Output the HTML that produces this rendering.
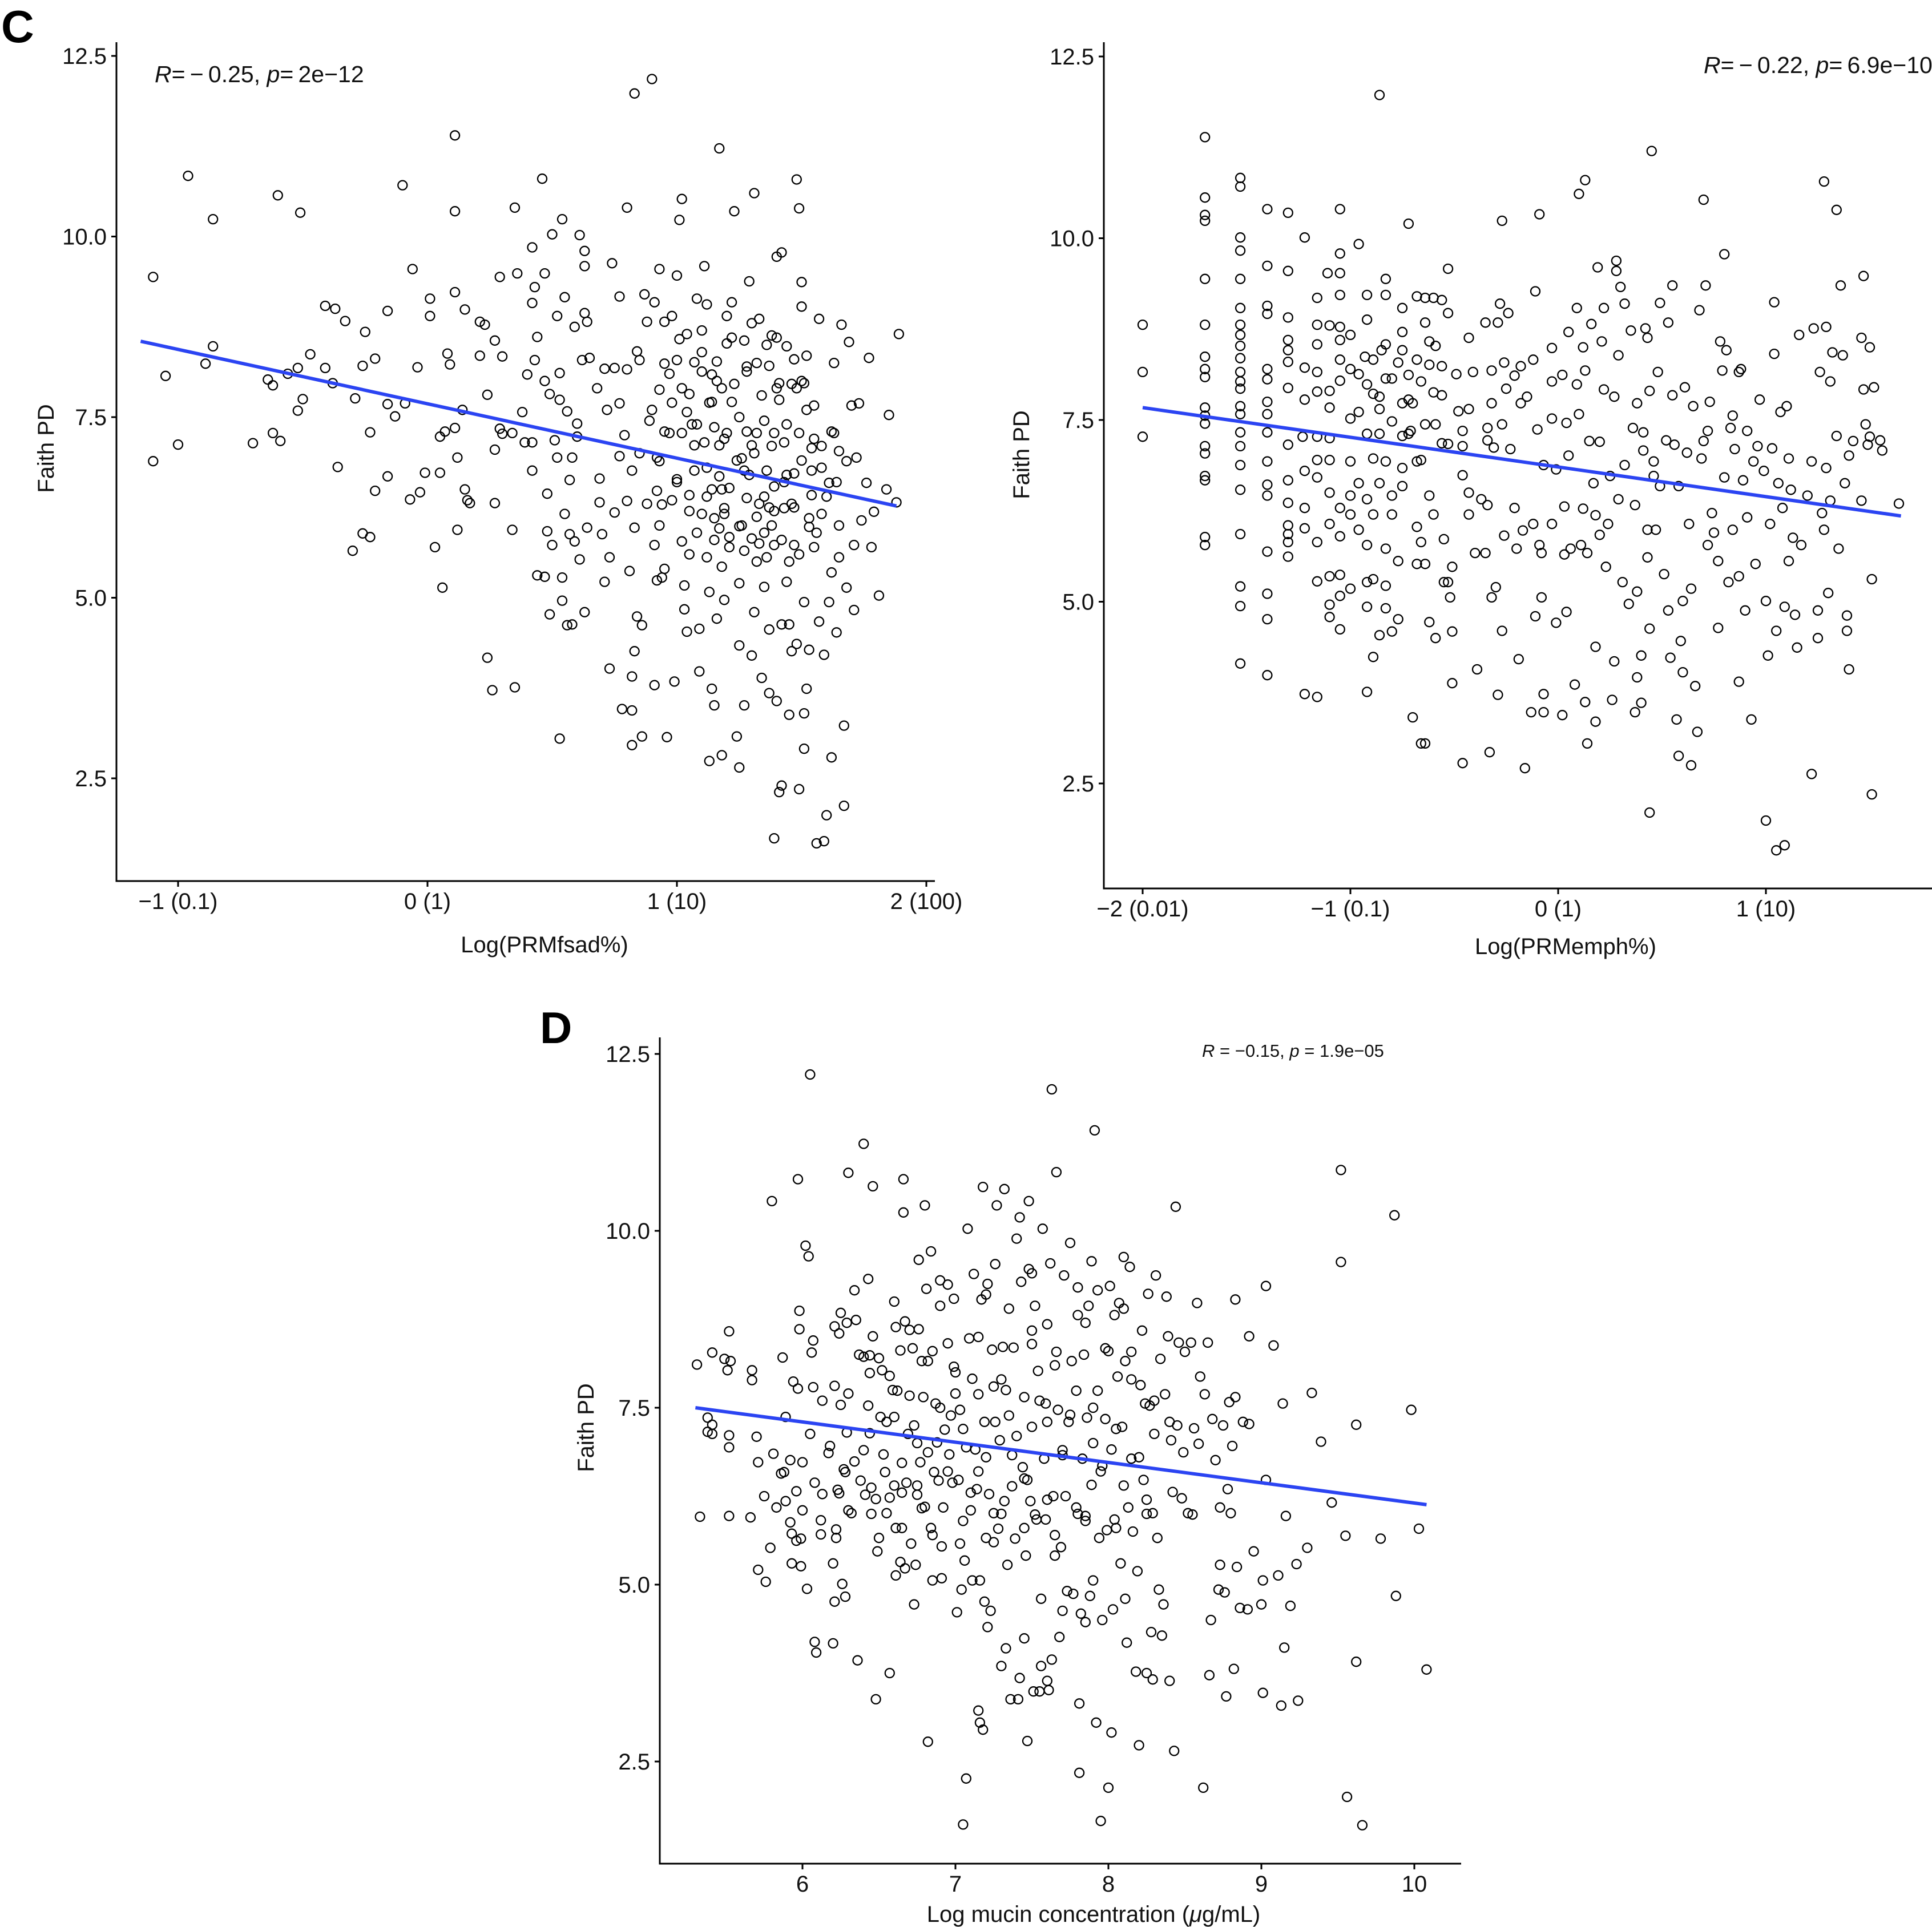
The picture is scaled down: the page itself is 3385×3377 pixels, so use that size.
<!DOCTYPE html>
<html><head><meta charset="utf-8"><style>
html,body{margin:0;padding:0;background:#fff;}
svg{display:block;font-family:"Liberation Sans",Arial,sans-serif;}
</style></head><body>
<svg id="fig" width="3385" height="3377" viewBox="0 0 3385 3377" xmlns="http://www.w3.org/2000/svg">
<rect width="3385" height="3377" fill="#fff"/>
<text x="2" y="74" font-size="80" font-weight="bold">C</text>
<text x="946" y="1828" font-size="78" font-weight="bold">D</text>
</svg>
<script>
// ---- Panel C1: PRMfsad ----
const fsadX = [-1.10,-1.10,-1.05,-1.0,-0.96,-0.89,-0.86,-0.86,-0.70,-0.64,-0.62,-0.62,-0.60,-0.59,-0.56,-0.52,-0.52,-0.51,-0.50,-0.47,-0.41,-0.41,-0.38,-0.37,-0.36,-0.33,-0.30,-0.29,-0.26,-0.25,-0.26,-0.23,-0.23,-0.21,-0.21,-0.16,-0.16,-0.16,-0.13,-0.10,-0.09,-0.07,-0.06,-0.04,-0.03,-0.01,0.01,0.01,0.03,0.05,0.05,0.06,0.07,0.08,0.09,0.11,0.11,0.11,0.11,0.12,0.12,0.14,0.15,0.15,0.16,0.17,0.21,0.23,0.21,0.24,0.24,0.26,0.27,0.27,0.27,0.29,0.29,0.30,0.30,0.34,0.35,0.35,0.34,0.36,0.38,0.40,0.39,0.42,0.42,0.42,0.42,0.43,0.43,0.44,0.44,0.46,0.47,0.47,0.47,0.48,0.48,0.49,0.49,0.50,0.50,0.51,0.52,0.52,0.53,0.53,0.53,0.54,0.54,0.54,0.55,0.55,0.56,0.56,0.57,0.57,0.58,0.58,0.59,0.59,0.60,0.60,0.61,0.61,0.62,0.63,0.63,0.63,0.63,0.64,0.64,0.65,0.68,0.69,0.69,0.70,0.71,0.71,0.72,0.73,0.73,0.74,0.75,0.75,0.77,0.77,0.77,0.78,0.79,0.80,0.80,0.80,0.81,0.82,0.82,0.82,0.82,0.83,0.83,0.83,0.84,0.84,0.85,0.86,0.86,0.87,0.88,0.90,0.91,0.91,0.91,0.92,0.92,0.93,0.93,0.93,0.94,0.94,0.95,0.95,0.96,0.97,0.98,0.98,0.99,1.0,1.0,1.0,1.01,1.01,1.02,1.02,1.02,1.03,1.03,1.04,1.04,1.04,1.05,1.05,1.07,1.07,1.08,1.09,1.09,1.10,1.11,1.11,1.12,1.12,1.13,1.13,1.14,1.14,1.15,1.15,1.16,1.16,1.17,1.17,1.17,1.18,1.18,1.19,1.19,1.20,1.20,1.21,1.21,1.22,1.23,1.23,1.24,1.25,1.25,1.25,1.26,1.27,1.27,1.28,1.28,1.29,1.30,1.30,1.31,1.31,1.32,1.32,1.33,1.33,1.34,1.35,1.35,1.36,1.36,1.37,1.37,1.38,1.39,1.39,1.39,1.40,1.40,1.41,1.41,1.42,1.42,1.42,1.43,1.43,1.44,1.44,1.45,1.45,1.46,1.46,1.47,1.47,1.48,1.48,1.49,1.49,1.49,1.50,1.50,1.51,1.51,1.51,1.52,1.52,1.53,1.53,1.54,1.54,1.55,1.56,1.57,1.57,1.58,1.59,1.59,1.60,1.61,1.61,1.62,1.62,1.63,1.63,1.64,1.65,1.65,1.65,1.66,1.67,1.67,1.68,1.68,1.69,1.70,1.71,1.71,1.72,1.73,1.74,1.76,1.77,1.78,1.79,1.81,1.84,1.85,1.88,1.89,1.14,1.22,1.32,1.39,1.17,1.27,1.37,1.19,1.41,1.51,1.07,0.92,0.89,1.10,1.27,1.37,1.54,1.47,1.30,1.14];
const fsadY = [9.44,6.89,8.07,7.12,10.84,8.24,10.24,8.48,7.14,8.02,7.94,7.28,10.57,7.17,8.1,8.18,7.59,10.33,7.75,8.37,9.04,8.18,7.97,9.0,6.81,8.83,5.65,7.76,5.89,8.68,8.21,7.29,5.84,6.48,8.31,8.97,7.68,6.68,7.51,10.71,7.69,6.36,9.55,8.19,6.46,6.73,8.90,9.14,5.70,6.73,7.23,5.14,7.30,8.38,8.23,7.35,11.40,10.35,9.23,6.94,5.94,7.60,8.99,6.50,6.35,6.31,8.82,8.78,8.35,7.81,4.17,3.72,8.56,7.05,6.31,9.44,7.34,7.27,8.34,5.94,3.76,10.40,7.28,9.49,7.57,8.09,7.15,9.85,9.08,7.15,6.76,9.30,8.29,5.31,8.61,10.80,9.49,8.0,5.29,6.44,5.92,7.82,4.77,10.03,5.73,7.18,6.94,8.90,3.05,8.11,7.74,10.24,5.28,4.96,6.16,9.16,7.58,4.62,5.88,6.63,4.63,6.94,8.75,5.78,7.23,7.41,5.53,10.02,8.29,9.59,9.8,8.94,4.80,5.97,8.82,8.32,7.90,6.32,6.65,5.88,5.22,8.17,7.60,5.56,4.02,9.63,8.18,6.18,9.17,6.96,7.69,3.46,7.25,10.40,8.16,6.34,5.37,3.44,3.91,2.96,6.76,11.98,5.97,4.26,8.41,4.74,8.29,4.62,3.08,9.20,8.82,12.18,3.79,9.09,5.73,5.24,6.48,7.88,9.55,6.89,5.28,6.29,8.82,8.24,3.07,7.28,8.90,6.35,3.84,6.64,9.46,8.29,8.58,10.23,10.52,5.78,7.28,4.84,5.17,7.57,8.65,4.53,6.42,7.82,8.26,6.76,9.14,3.98,4.57,6.16,9.59,7.15,9.06,5.56,2.74,5.08,8.09,3.74,7.36,3.51,8.27,4.71,5.96,11.22,6.68,2.82,5.43,6.24,4.97,7.28,8.52,5.84,6.52,9.09,7.96,10.35,3.08,5.99,2.65,4.34,6.93,3.51,5.65,6.38,8.13,9.38,4.20,7.11,4.80,10.60,6.12,8.25,5.75,8.86,3.89,5.15,7.45,6.76,5.56,3.68,4.56,8.63,6.54,1.67,5.73,3.57,9.72,2.31,7.74,4.63,2.40,9.78,6.24,7.15,8.48,5.22,3.38,4.63,7.96,4.26,5.73,6.72,10.79,4.36,10.39,2.35,7.28,9.03,9.37,3.40,2.91,4.94,3.74,8.35,5.98,4.28,7.07,6.42,7.66,1.60,8.86,4.67,6.16,4.21,1.63,1.99,4.94,6.59,5.35,2.79,7.28,8.25,4.52,5.56,7.03,6.00,8.78,2.12,3.23,5.14,6.89,8.54,7.66,5.73,4.83,6.94,7.69,6.07,6.59,8.32,5.70,6.19,5.03,6.50,7.53,6.32,8.65,7.71,7.71,7.28,7.28,7.11,6.76,6.25,6.16,7.97,7.97,7.11,6.94,7.45,8.13,8.56,8.21,6.76,6.25,5.82,6.50];
const fsadX2 = [0.85,0.88,0.90,0.93,0.95,0.97,1.00,1.02,1.05,1.06,1.08,1.10,1.12,1.13,1.15,1.16,1.18,1.19,1.21,1.22,1.24,1.25,1.26,1.28,1.29,1.31,1.32,1.34,1.35,1.36,1.38,1.39,1.40,1.42,1.43,1.44,1.46,1.47,1.49,1.50,1.52,1.53,1.55,1.56,1.58,1.60,1.62,1.64,0.95,1.05,1.15,1.25,1.35,1.45,1.55,1.10,1.20,1.30,1.40,1.50,0.98,1.08,1.18,1.28,1.38,1.48,1.58,1.12,1.33,1.44];
const fsadY2 = [7.0,6.3,7.6,6.0,7.3,8.1,6.6,7.9,6.2,7.4,5.9,8.4,6.8,7.7,6.1,8.0,6.5,7.2,5.7,8.6,6.9,7.5,6.0,8.2,6.7,7.0,5.5,7.8,6.4,8.5,7.1,6.2,7.9,5.8,6.6,7.4,6.3,8.3,5.6,6.9,7.6,6.1,7.2,5.9,6.8,6.4,7.3,6.6,5.4,5.6,5.8,5.2,5.9,5.5,5.7,8.7,8.9,8.8,8.6,8.0,7.7,7.4,7.9,7.3,6.0,7.9,7.1,6.4,6.3,6.7];
const fsadFitX = [-1.15, 1.88];
const fsadFitY = [8.55, 6.27];
const fsadXTicks = [-1, 0, 1, 2];
const fsadXTickLabels = ["\u22121 (0.1)", "0 (1)", "1 (10)", "2 (100)"];

// ---- Panel C2: PRMemph ----
const emphX = [-2.00,-2.00,-2.00,-1.70,-1.70,-1.70,-1.70,-1.70,-1.70,-1.70,-1.70,-1.70,-1.70,-1.70,-1.70,-1.70,-1.70,-1.70,-1.70,-1.70,-1.70,-1.53,-1.53,-1.53,-1.53,-1.53,-1.53,-1.53,-1.53,-1.53,-1.53,-1.53,-1.53,-1.53,-1.53,-1.53,-1.53,-1.53,-1.53,-1.53,-1.53,-1.53,-1.53,-1.53,-1.40,-1.40,-1.40,-1.40,-1.40,-1.40,-1.40,-1.40,-1.40,-1.40,-1.40,-1.40,-1.40,-1.40,-1.40,-1.40,-1.30,-1.30,-1.30,-1.30,-1.30,-1.30,-1.30,-1.30,-1.30,-1.30,-1.30,-1.30,-1.30,-1.30,-1.22,-1.23,-1.22,-1.22,-1.22,-1.22,-1.22,-1.22,-1.16,-1.16,-1.16,-1.16,-1.16,-1.16,-1.16,-1.16,-1.16,-1.16,-1.16,-1.11,-1.10,-1.10,-1.10,-1.10,-1.10,-1.10,-1.10,-1.10,-1.10,-1.10,-1.05,-1.05,-1.05,-1.05,-1.05,-1.05,-1.05,-1.05,-1.05,-1.05,-1.05,-1.05,-1.05,-1.00,-1.00,-1.00,-1.00,-1.00,-1.00,-1.00,-0.96,-0.96,-0.96,-0.96,-0.96,-0.92,-0.92,-0.93,-0.92,-0.92,-0.92,-0.92,-0.92,-0.92,-0.92,-0.89,-0.89,-0.89,-0.89,-0.89,-0.89,-0.86,-0.86,-0.86,-0.86,-0.86,-0.86,-0.85,-0.83,-0.83,-0.83,-0.83,-0.83,-0.83,-0.83,-0.83,-0.80,-0.80,-0.80,-0.80,-0.80,-0.77,-0.77,-0.77,-0.75,-0.75,-0.75,-0.75,-0.75,-0.75,-0.75,-0.72,-0.72,-0.72,-0.72,-0.70,-0.70,-0.71,-0.68,-0.68,-0.68,-0.68,-0.68,-0.66,-0.66,-0.66,-0.66,-0.64,-0.64,-0.64,-0.64,-0.64,-0.62,-0.62,-0.62,-0.62,-0.60,-0.60,-0.60,-0.59,-0.59,-0.59,-0.56,-0.56,-0.56,-0.56,-0.55,-0.55,-0.53,-0.53,-0.53,-0.53,-0.52,-0.51,-0.51,-0.51,-0.49,-0.48,-0.46,-0.46,-0.46,-0.46,-0.43,-0.43,-0.43,-0.43,-0.41,-0.40,-0.39,-0.37,-0.35,-0.35,-0.34,-0.34,-0.34,-0.33,-0.32,-0.32,-0.32,-0.31,-0.30,-0.29,-0.29,-0.28,-0.27,-0.27,-0.27,-0.26,-0.26,-0.25,-0.24,-0.23,-0.21,-0.21,-0.20,-0.19,-0.18,-0.18,-0.17,-0.16,-0.15,-0.13,-0.12,-0.12,-0.11,-0.11,-0.10,-0.09,-0.09,-0.08,-0.08,-0.07,-0.07,-0.07,-0.03,-0.03,-0.03,-0.01,-0.01,-0.03,0.02,0.02,0.03,0.03,0.04,0.04,0.05,0.05,0.06,0.08,0.09,0.09,0.10,0.10,0.11,0.12,0.12,0.13,0.13,0.13,0.14,0.14,0.15,0.16,0.17,0.18,0.18,0.18,0.19,0.20,0.20,0.21,0.22,0.22,0.23,0.24,0.25,0.26,0.27,0.27,0.28,0.28,0.29,0.29,0.30,0.31,0.32,0.32,0.34,0.35,0.36,0.37,0.37,0.38,0.38,0.38,0.40,0.40,0.41,0.41,0.42,0.43,0.43,0.43,0.44,0.44,0.44,0.45,0.46,0.46,0.47,0.48,0.49,0.49,0.51,0.52,0.53,0.53,0.54,0.55,0.55,0.56,0.57,0.58,0.58,0.59,0.60,0.60,0.61,0.62,0.63,0.64,0.64,0.65,0.66,0.67,0.68,0.69,0.70,0.70,0.71,0.72,0.72,0.73,0.74,0.75,0.77,0.77,0.78,0.79,0.80,0.80,0.81,0.82,0.83,0.84,0.84,0.85,0.87,0.87,0.87,0.88,0.89,0.90,0.91,0.91,0.93,0.94,0.95,0.96,0.97,0.99,1.00,1.00,1.01,1.02,1.03,1.04,1.04,1.05,1.05,1.06,1.07,1.08,1.09,1.09,1.10,1.11,1.11,1.12,1.13,1.14,1.15,1.16,1.17,1.20,1.22,1.22,1.23,1.25,1.25,1.26,1.27,1.28,1.28,1.29,1.29,1.30,1.31,1.31,1.32,1.34,1.34,1.35,1.36,1.37,1.38,1.39,1.39,1.40,1.40,1.42,1.46,1.46,1.47,1.47,1.48,1.49,1.50,1.50,1.51,1.51,1.52,1.55,1.56,1.64];
const emphY = [8.81,8.16,7.27,11.39,10.56,10.32,10.24,9.44,8.81,8.37,8.20,8.09,7.67,7.56,7.45,7.14,7.04,6.73,6.67,5.89,5.78,10.83,10.71,10.01,9.83,9.44,9.04,8.81,8.67,8.52,8.35,8.16,8.03,7.93,7.69,7.58,7.33,7.14,6.88,6.54,5.93,5.21,4.94,4.15,10.40,9.62,9.07,8.96,8.20,8.06,7.75,7.58,7.33,6.93,6.61,6.46,5.69,5.11,4.76,3.99,10.35,9.55,8.91,8.60,8.46,8.30,7.94,7.16,6.67,6.36,6.05,5.93,5.82,5.62,10.01,7.27,8.22,7.78,6.80,6.29,6.01,3.73,9.18,8.81,8.54,8.16,7.89,7.27,6.95,6.71,5.82,5.28,3.69,9.52,8.80,7.90,7.67,7.25,6.50,6.07,5.35,4.96,4.79,6.95,10.40,9.79,9.52,9.22,8.78,8.60,8.33,8.04,6.29,5.90,5.37,5.08,4.62,8.67,8.20,7.52,6.93,6.46,6.20,5.18,9.92,8.13,7.61,6.63,5.99,9.22,8.88,8.37,7.99,7.31,6.41,5.78,5.27,4.93,3.76,8.33,7.86,6.97,6.20,5.31,4.24,11.97,7.82,7.65,7.31,6.63,4.54,8.46,9.44,9.22,8.54,8.07,6.93,5.73,5.22,4.91,8.07,7.48,6.46,6.20,4.59,8.29,5.56,4.76,9.04,8.71,8.46,7.28,6.84,6.59,7.73,10.20,8.12,7.78,7.31,3.41,7.73,7.35,9.20,8.33,6.93,6.03,5.52,8.03,5.82,3.05,6.95,9.18,8.84,7.44,5.52,3.05,8.58,8.26,6.46,4.72,9.18,7.88,6.20,8.52,7.44,4.50,9.15,8.24,7.84,7.18,5.86,5.27,8.97,9.58,7.17,5.27,5.06,5.48,4.59,3.88,8.13,7.62,7.35,7.14,6.74,2.78,8.63,7.65,6.50,6.20,8.16,5.67,4.07,6.41,8.84,5.67,7.39,7.22,6.33,2.93,8.18,7.73,5.06,7.12,5.20,3.72,8.84,9.10,7.44,10.24,4.60,5.91,8.29,7.93,8.97,7.10,8.11,6.29,5.73,4.21,8.24,7.73,5.98,2.71,7.82,3.48,8.33,6.07,9.27,4.80,7.37,10.33,5.78,5.67,5.06,3.48,3.73,6.88,8.49,7.52,6.07,6.82,4.71,8.03,3.44,8.12,5.65,6.31,7.46,4.86,8.71,7.01,5.73,3.86,9.04,7.99,10.61,7.58,5.78,6.28,8.50,3.62,10.80,8.18,3.05,5.67,7.21,8.82,6.63,4.38,3.35,6.19,9.60,5.92,7.20,8.58,9.04,7.92,5.48,6.07,6.73,3.65,4.18,7.82,9.69,9.55,6.41,8.39,9.33,5.27,6.88,9.10,4.97,8.73,7.39,6.33,3.48,5.14,7.73,3.96,4.26,3.61,7.08,7.33,8.76,5.61,5.99,8.63,7.90,4.63,2.10,11.20,6.93,6.73,5.99,8.16,6.59,9.11,5.38,7.22,4.88,8.84,4.23,7.84,9.35,7.16,3.38,2.88,6.59,4.46,4.03,5.01,7.95,7.05,6.07,2.75,5.18,7.69,3.84,3.21,9.01,6.97,10.53,7.21,9.35,5.78,7.35,7.75,6.22,5.95,5.56,4.64,8.58,8.18,9.78,6.71,8.46,5.27,7.39,5.99,7.56,7.10,8.16,5.35,3.90,8.20,6.67,4.88,7.35,6.16,3.38,6.93,5.52,7.14,7.78,6.80,1.99,5.01,4.26,6.07,7.11,9.12,8.41,4.60,1.58,6.63,7.61,6.29,4.93,1.65,7.69,5.56,6.97,6.54,5.88,4.82,4.37,8.67,5.78,6.46,2.63,6.93,8.76,4.88,4.50,8.16,6.22,5.99,10.78,8.78,6.84,5.12,8.03,6.39,8.43,10.39,7.28,5.73,9.35,8.39,6.63,4.81,4.60,4.07,7.01,7.21,8.63,6.39,9.48,7.92,7.44,7.16,7.27,8.50,5.31,2.35,7.95,7.22,7.08,6.35];
const emphFitX = [-2.0, 1.65];
const emphFitY = [7.67, 6.18];
const emphXTicks = [-2, -1, 0, 1];
const emphXTickLabels = ["\u22122 (0.01)", "\u22121 (0.1)", "0 (1)", "1 (10)"];

// ---- Panel D: mucin ----
const mucX = [5.31,5.33,5.38,5.38,5.41,5.41,5.41,5.49,5.51,5.52,5.53,5.52,5.52,5.52,5.67,5.67,5.66,5.70,5.71,5.71,5.76,5.75,5.79,5.80,5.81,5.83,5.86,5.87,5.88,5.89,5.89,5.92,5.92,5.93,5.93,5.94,5.96,5.96,5.97,5.97,5.98,5.98,5.99,6.0,5.99,6.0,6.02,6.03,6.04,6.05,6.05,6.06,6.07,6.07,6.08,6.09,6.08,6.13,6.13,6.12,6.12,6.17,6.18,6.20,6.20,6.21,6.21,6.22,6.22,6.21,6.23,6.24,6.24,6.25,6.25,6.26,6.27,6.28,6.28,6.29,6.29,6.30,6.30,6.32,6.34,6.34,6.35,6.36,6.37,6.38,6.40,6.40,6.41,6.43,6.43,6.44,6.44,6.44,6.45,6.46,6.46,6.48,6.48,6.49,6.50,6.51,6.52,6.53,6.54,6.55,6.57,6.57,6.57,6.59,6.60,6.61,6.61,6.61,6.62,6.64,6.64,6.65,6.65,6.66,6.66,6.67,6.67,6.68,6.69,6.70,6.71,6.72,6.73,6.73,6.74,6.75,6.76,6.76,6.77,6.78,6.78,6.79,6.80,6.81,6.82,6.82,6.82,6.84,6.84,6.85,6.86,6.87,6.88,6.89,6.90,6.91,6.91,6.92,6.93,6.95,6.95,6.96,6.97,6.98,6.99,6.99,7.01,7.02,7.03,7.03,7.04,7.05,7.06,7.07,7.07,7.08,7.09,7.10,7.11,7.11,7.12,7.13,7.14,7.15,7.15,7.16,7.16,7.17,7.18,7.18,7.19,7.19,7.20,7.21,7.21,7.22,7.23,7.24,7.25,7.26,7.26,7.27,7.28,7.29,7.30,7.31,7.32,7.32,7.33,7.33,7.34,7.35,7.36,7.37,7.37,7.38,7.39,7.40,7.41,7.42,7.42,7.43,7.44,7.45,7.45,7.46,7.47,7.47,7.48,7.48,7.49,7.50,7.50,7.51,7.52,7.52,7.53,7.54,7.55,7.56,7.56,7.57,7.58,7.59,7.59,7.60,7.60,7.61,7.62,7.63,7.63,7.64,7.65,7.66,7.66,7.67,7.68,7.69,7.70,7.70,7.71,7.72,7.73,7.74,7.75,7.76,7.77,7.79,7.79,7.80,7.81,7.81,7.82,7.83,7.84,7.85,7.85,7.86,7.87,7.88,7.89,7.89,7.90,7.91,7.92,7.93,7.93,7.94,7.95,7.96,7.96,7.98,7.98,7.99,8.00,8.01,8.02,8.02,8.03,8.04,8.04,8.06,8.07,8.08,8.09,8.10,8.11,8.11,8.12,8.13,8.14,8.15,8.15,8.16,8.18,8.19,8.20,8.21,8.22,8.23,8.24,8.25,8.25,8.26,8.27,8.28,8.29,8.29,8.30,8.31,8.32,8.33,8.34,8.35,8.36,8.37,8.38,8.39,8.40,8.41,8.42,8.43,8.44,8.45,8.46,8.48,8.49,8.50,8.52,8.54,8.55,8.56,8.58,8.59,8.60,8.62,8.63,8.65,8.66,8.67,8.68,8.70,8.72,8.73,8.73,8.75,8.76,8.77,8.78,8.79,8.80,8.81,8.82,8.83,8.83,8.84,8.86,8.88,8.91,8.92,8.92,8.95,9.00,9.01,9.01,9.03,9.03,9.08,9.11,9.13,9.14,9.15,9.16,9.19,9.23,9.24,9.30,9.33,9.39,9.46,9.52,9.52,9.55,9.56,9.62,9.62,9.66,9.78,9.87,9.88,9.98,10.03,10.08];
const mucY = [8.11,5.96,7.36,7.16,8.28,7.26,7.13,8.19,8.03,8.58,8.16,7.11,6.94,5.97,8.03,7.89,5.95,7.09,5.21,6.73,5.04,6.25,5.52,10.42,6.85,6.09,6.57,8.21,6.59,7.37,6.18,5.88,6.76,5.72,5.30,7.87,5.62,6.32,7.77,10.73,8.87,8.61,5.26,6.05,5.65,6.73,9.79,4.94,9.64,12.21,7.13,8.28,8.45,7.79,4.19,4.04,6.44,7.60,6.28,5.91,5.71,6.86,6.96,4.17,5.30,4.76,7.81,5.78,5.66,8.65,6.34,6.29,8.55,8.84,7.54,5.01,6.63,6.59,4.83,7.15,8.70,10.82,6.05,6.01,9.16,6.74,8.74,3.93,8.25,6.47,8.22,11.23,6.27,9.32,7.53,7.14,8.24,7.99,6.37,8.51,10.63,3.38,6.21,5.47,5.66,7.37,8.03,6.84,6.59,6.01,6.23,3.75,7.95,7.75,7.37,5.80,8.64,5.13,7.74,8.31,5.32,6.72,6.30,10.73,10.26,8.72,5.23,6.44,7.13,7.67,5.58,8.34,7.25,4.72,5.28,6.27,9.59,8.61,6.73,6.08,8.16,7.65,10.36,9.18,2.78,8.16,6.87,9.71,5.80,5.06,6.59,7.56,7.01,6.47,8.94,5.54,5.09,6.09,7.19,9.24,8.41,6.84,7.39,6.44,9.04,8.08,4.61,6.48,5.58,7.47,4.93,1.61,5.34,2.26,6.94,10.03,8.48,6.05,5.06,7.91,9.39,6.91,6.35,7.69,3.22,5.06,3.05,9.03,2.95,10.62,7.30,4.76,5.66,9.25,4.40,6.28,4.63,8.32,6.01,9.53,7.30,10.36,5.79,7.04,3.85,8.36,10.59,6.18,7.75,4.10,5.28,7.39,3.38,6.39,6.83,8.35,5.65,9.89,3.38,3.68,10.19,9.28,6.66,7.65,4.24,5.41,6.48,2.79,10.42,9.46,6.18,7.23,8.59,3.49,5.99,8.94,5.92,8.02,3.49,4.80,3.85,10.03,6.78,7.56,5.92,3.64,8.68,3.51,9.54,3.94,12.0,6.25,5.41,10.83,8.29,7.47,4.26,5.53,6.83,4.63,9.37,6.25,4.91,7.30,9.83,8.16,4.87,7.74,6.09,8.81,2.34,3.32,4.59,6.78,8.25,5.97,4.47,7.36,8.94,4.84,6.41,9.57,5.06,11.42,3.05,7.74,9.16,5.66,1.66,6.68,4.50,7.34,8.34,5.77,2.13,9.22,2.91,6.91,4.65,8.81,5.92,7.94,8.98,5.30,7.23,9.63,4.80,8.16,4.18,6.09,9.49,6.78,8.29,5.75,3.77,5.19,2.73,7.82,8.59,6.48,7.56,3.75,6.20,9.11,7.53,4.33,6.01,3.66,7.13,9.37,5.66,4.93,8.19,4.28,4.72,7.69,9.07,8.51,3.64,7.04,6.31,2.65,10.34,7.25,8.42,6.22,6.87,8.29,6.01,8.42,5.99,7.21,8.98,6.99,7.94,2.13,7.69,8.42,3.72,4.50,7.34,6.76,4.93,6.09,5.28,7.25,4.89,3.42,6.35,7.58,6.01,6.96,3.81,9.03,7.65,5.25,4.67,7.30,4.65,7.27,8.51,5.47,4.72,3.47,5.06,9.22,6.48,8.38,5.13,3.29,7.56,4.11,5.97,4.70,5.29,3.36,5.52,7.71,7.02,6.16,10.86,9.56,5.69,2.00,3.91,7.26,1.60,5.65,10.22,4.84,7.47,5.79,3.80];
const mucX2 = [6.3,6.4,6.5,6.55,6.6,6.7,6.75,6.8,6.85,6.9,6.95,7.0,7.05,7.1,7.15,7.2,7.25,7.3,7.35,7.4,7.45,7.5,7.55,7.6,7.65,7.7,7.75,7.8,7.85,7.9,7.95,8.0,8.05,8.1,8.15,8.2,8.3,8.4,6.45,6.65,6.85,7.05,7.25,7.45,7.65,7.85,8.05,8.25,6.6,6.9,7.2,7.5,7.8,8.1,7.0,7.3,7.6,7.9,6.75,7.15];
const mucY2 = [7.7,6.9,8.2,7.3,6.4,8.6,7.0,6.1,8.3,7.5,6.6,8.0,7.2,6.3,8.5,6.8,7.8,6.0,8.9,7.1,6.5,8.4,7.6,6.2,8.1,6.9,7.4,6.0,8.7,7.0,6.6,8.3,7.2,6.4,7.9,6.8,7.6,7.3,6.0,5.8,5.7,5.9,5.6,5.8,5.7,5.9,5.8,6.0,9.0,9.3,9.1,9.4,9.2,8.9,7.7,7.9,7.3,7.5,6.4,6.6];
const mucFitX = [5.3, 10.08];
const mucFitY = [7.5, 6.13];
const mucXTicks = [6, 7, 8, 9, 10];
const mucXTickLabels = ["6", "7", "8", "9", "10"];

const yTicks = [2.5, 5.0, 7.5, 10.0, 12.5];
const yTickLabels = ["2.5", "5.0", "7.5", "10.0", "12.5"];

const NS = "http://www.w3.org/2000/svg";
const svg = document.getElementById('fig');
function mk(tag, attrs, parent) {
  const e = document.createElementNS(NS, tag);
  for (const k in attrs) e.setAttribute(k, attrs[k]);
  (parent || svg).appendChild(e);
  return e;
}

function panel(cfg) {
  const g = mk('g', {});
  
  
  const sx = v => cfg.x0px + (v - cfg.x0val) * cfg.xUnit;
  const sy = v => cfg.y25px - (v - 2.5) * cfg.yUnit;
  const pg = mk('g', {fill: 'none', stroke: '#000', 'stroke-width': 2.3}, g);
  
  
  for (let i = 0; i < cfg.xs.length; i++) {
    const c = mk('circle', {cx: sx(cfg.xs[i]).toFixed(1), cy: sy(cfg.ys[i]).toFixed(1), r: 8}, pg);
    
    
  }
  const ln = mk('line', {x1: sx(cfg.fitX[0]), y1: sy(cfg.fitY[0]), x2: sx(cfg.fitX[1]), y2: sy(cfg.fitY[1]), stroke: '#2b44f2', 'stroke-width': 6}, g);
  
  
  const ya = mk('line', {x1: cfg.axX, y1: cfg.axTop, x2: cfg.axX, y2: cfg.axY + 1.5, stroke: '#000', 'stroke-width': 3}, g);
  
  
  const xa = mk('line', {x1: cfg.axX - 1.5, y1: cfg.axY, x2: cfg.axRight, y2: cfg.axY, stroke: '#000', 'stroke-width': 3}, g);
  
  
  yTicks.forEach((t, i) => {
    const y = sy(t);
    const tk = mk('line', {x1: cfg.axX - 9, y1: y, x2: cfg.axX, y2: y, stroke: '#000', 'stroke-width': 3}, g);
    
    
    const tx = mk('text', {x: cfg.axX - 17, y: y + 14, 'font-size': 40, 'text-anchor': 'end', fill: '#111'}, g);
    tx.textContent = yTickLabels[i];
    
    
  });
  cfg.xTicks.forEach((t, i) => {
    const x = sx(t);
    const tk = mk('line', {x1: x, y1: cfg.axY, x2: x, y2: cfg.axY + 10, stroke: '#000', 'stroke-width': 3}, g);
    
    
    const tx = mk('text', {x: x, y: cfg.axY + 49, 'font-size': 40, 'text-anchor': 'middle', fill: '#111'}, g);
    tx.textContent = cfg.xTickLabels[i];
    
    
  });
  const yt = mk('text', {x: 0, y: 0, 'font-size': 40, 'text-anchor': 'middle', fill: '#111', transform: `translate(${cfg.ytX},${cfg.ytY}) rotate(-90)`}, g);
  yt.textContent = 'Faith PD';
  
  
  const xt = mk('text', {x: cfg.xtX, y: cfg.xtY, 'font-size': 40, 'text-anchor': 'middle', fill: '#111'}, g);
  xt.innerHTML = cfg.xTitle;
  
  
  const st = mk('text', {x: cfg.stX, y: cfg.stY, 'font-size': cfg.stSize, fill: '#111'}, g);
  st.innerHTML = cfg.stat;
  
  
}

panel({name: 'panel-c-fsad', xs: fsadX.concat(fsadX2), ys: fsadY.concat(fsadY2), fitX: fsadFitX, fitY: fsadFitY, xTicks: fsadXTicks, xTickLabels: fsadXTickLabels,
  x0px: 749, x0val: 0, xUnit: 437, y25px: 1364, yUnit: 126.6,
  axX: 204, axTop: 74, axY: 1544, axRight: 1638,
  ytX: 94, ytY: 786, xtX: 954, xtY: 1669, xTitle: 'Log(PRMfsad%)',
  stX: 271, stY: 144, stSize: 41, stat: '<tspan font-style="italic">R</tspan>=\u2009\u2212\u20090.25, <tspan font-style="italic">p</tspan>=\u20092e\u221212'});

panel({name: 'panel-c-emph', xs: emphX, ys: emphY, fitX: emphFitX, fitY: emphFitY, xTicks: emphXTicks, xTickLabels: emphXTickLabels,
  x0px: 2730, x0val: 0, xUnit: 364, y25px: 1373, yUnit: 127.4,
  axX: 1934, axTop: 74, axY: 1557, axRight: 3385,
  ytX: 1803, ytY: 797, xtX: 2743, xtY: 1672, xTitle: 'Log(PRMemph%)',
  stX: 2985, stY: 128, stSize: 41, stat: '<tspan font-style="italic">R</tspan>=\u2009\u2212\u20090.22, <tspan font-style="italic">p</tspan>=\u20096.9e\u221210'});

panel({name: 'panel-d-mucin', xs: mucX.concat(mucX2), ys: mucY.concat(mucY2), fitX: mucFitX, fitY: mucFitY, xTicks: mucXTicks, xTickLabels: mucXTickLabels,
  x0px: 1406, x0val: 6, xUnit: 268, y25px: 3087, yUnit: 124,
  axX: 1156, axTop: 1818, axY: 3266, axRight: 2560,
  ytX: 1040, ytY: 2502, xtX: 1916, xtY: 3368, xTitle: 'Log mucin concentration (<tspan font-style="italic">\u03bc</tspan>g/mL)',
  stX: 2106, stY: 1852, stSize: 31, stat: '<tspan font-style="italic">R</tspan> = \u22120.15,  <tspan font-style="italic">p</tspan> = 1.9e\u221205'});
</script>
</body></html>
